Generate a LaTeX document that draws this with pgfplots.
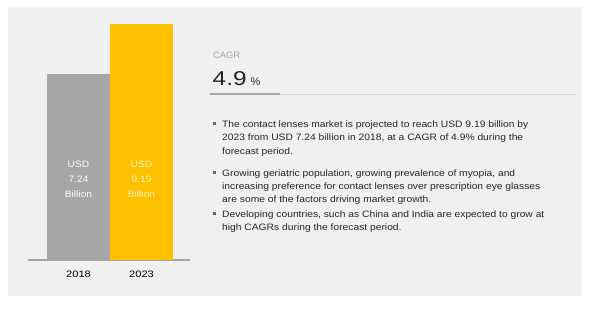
\documentclass[border=0pt]{standalone}
\usepackage{fontspec}
\setmainfont{Liberation Sans}
\usepackage{graphicx}
\usepackage{pgfplots}
\pgfplotsset{compat=1.18}
\definecolor{panel}{HTML}{F0F0F0}
\definecolor{bargrey}{HTML}{A6A6A6}
\definecolor{baryellow}{HTML}{FFC000}
\definecolor{paleyellow}{HTML}{FFF2B3}
\definecolor{txt}{HTML}{262626}
\definecolor{rulelight}{HTML}{D9D9D9}
\newcommand{\fs}[1]{\fontsize{#1}{#1}\selectfont}
\newcommand{\sx}[2]{\scalebox{#1}[1]{#2}}
\begin{document}
\begin{tikzpicture}[x=1bp,y=1bp]
\path[use as bounding box] (0,0) rectangle (591,-309);
\fill[white] (0,0) rectangle (591,-309);
\fill[panel] (8,-7) rectangle (582,-296);
\begin{axis}[
  at={(28bp,-260bp)}, anchor=south west,
  scale only axis, width=162bp, height=253bp,
  xmin=-0.8016, xmax=1.7698, ymin=0, ymax=9.848,
  axis x line*=bottom, axis y line=none,
  x axis line style={draw=bargrey, line width=1.2bp},
  xtick={0,1}, xticklabels={\sx{1.2}{2018},\sx{1.2}{2023}},
  xtick style={draw=none}, ytick=\empty,
  xticklabel style={anchor=base, yshift=-17.7bp, font=\fs{9.3bp}, text=black},
  clip=false,
]
\addplot[ybar, bar width=63bp, bar shift=0pt, fill=bargrey, draw=none] coordinates {(0,7.24)};
\addplot[ybar, bar width=63bp, bar shift=0pt, fill=baryellow, draw=none] coordinates {(1,9.19)};
\node[anchor=base, text=white, font=\fs{9.3bp}] at (axis cs:0,3.593) {\sx{1.1}{USD}};
\node[anchor=base, text=white, font=\fs{9.3bp}] at (axis cs:0,3.009) {\sx{1.1}{7.24}};
\node[anchor=base, text=white, font=\fs{9.3bp}] at (axis cs:0,2.425) {\sx{1.1}{Billion}};
\node[anchor=base, text=paleyellow, font=\fs{9.3bp}] at (axis cs:1,3.593) {\sx{1.1}{USD}};
\node[anchor=base, text=paleyellow, font=\fs{9.3bp}] at (axis cs:1,3.009) {\sx{1.1}{9.19}};
\node[anchor=base, text=paleyellow, font=\fs{9.3bp}] at (axis cs:1,2.425) {\sx{1.1}{Billion}};
\end{axis}
% CAGR block
\node[anchor=base west, inner sep=0, text=bargrey, font=\fs{9.3bp}] at (213,-58.3) {CAGR};
\node[anchor=base west, inner sep=0, text=txt, font=\fs{20bp}] at (212.5,-85) {\sx{1.22}{4.9}};
\node[anchor=base west, inner sep=0, text=txt, font=\fs{11bp}] at (250.5,-85) {\%};
\draw[rulelight, line width=1.3bp] (210,-94.3) -- (575,-94.3);
\draw[bargrey, line width=2bp] (210,-94.3) -- (280,-94.3);
% bullets
\def\bl#1#2{\node[anchor=base west, inner sep=0, text=txt, font=\fs{9.3bp}] at (222,-#1) {\sx{1.105}{#2}};}
\def\sq#1{\fill[txt!70] (212.5,-#1+2) rectangle (215.5,-#1+5);}
\sq{127.3}
\bl{127.3}{The contact lenses market is projected to reach USD 9.19 billion by}
\bl{140.7}{2023 from USD 7.24 billion in 2018, at a CAGR of 4.9\% during the}
\bl{154.0}{forecast period.}
\sq{176.0}
\bl{176.0}{Growing geriatric population, growing prevalence of myopia, and}
\bl{189.3}{increasing preference for contact lenses over prescription eye glasses}
\bl{202.7}{are some of the factors driving market growth.}
\sq{217.3}
\bl{217.3}{Developing countries, such as China and India are expected to grow at}
\bl{230.7}{high CAGRs during the forecast period.}
\end{tikzpicture}
\end{document}
